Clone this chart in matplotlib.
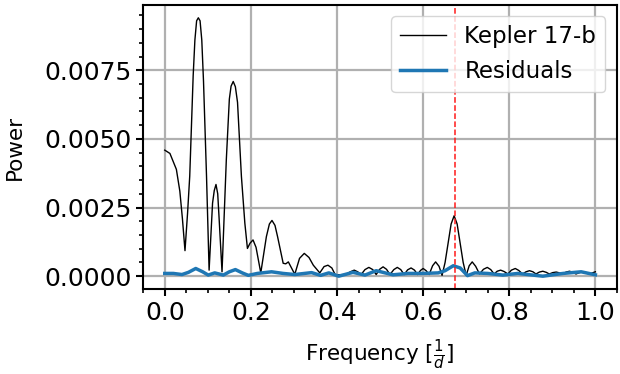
import matplotlib.pyplot as plt
import numpy as np

# periodogram of the light curve (frequency in 1/d, power)
freq = [0.000, 0.012, 0.027, 0.035, 0.041, 0.047, 0.053, 0.058, 0.066, 0.070,
        0.074, 0.078, 0.082, 0.086, 0.090, 0.097, 0.103, 0.111, 0.115, 0.119,
        0.123, 0.126, 0.133, 0.143, 0.150, 0.154, 0.159, 0.164, 0.169, 0.178,
        0.186, 0.192, 0.198, 0.205, 0.212, 0.223, 0.236, 0.243, 0.249, 0.256,
        0.262, 0.275, 0.281, 0.287, 0.302, 0.313, 0.324, 0.335, 0.345, 0.360,
        0.370, 0.379, 0.388, 0.396, 0.421, 0.431, 0.440, 0.448, 0.456, 0.465,
        0.474, 0.483, 0.491, 0.499, 0.507, 0.515, 0.523, 0.532, 0.540, 0.548,
        0.556, 0.564, 0.572, 0.580, 0.587, 0.594, 0.600, 0.607, 0.614, 0.622,
        0.629, 0.637, 0.644, 0.651, 0.658, 0.665, 0.672, 0.679, 0.686, 0.693,
        0.700, 0.707, 0.714, 0.722, 0.731, 0.740, 0.749, 0.757, 0.765, 0.772,
        0.780, 0.788, 0.797, 0.805, 0.814, 0.822, 0.831, 0.839, 0.847, 0.855,
        0.862, 0.870, 0.878, 0.886, 0.893, 0.901, 0.909, 0.917, 0.925, 0.932,
        0.940, 0.948, 0.955, 0.963, 0.971, 0.979, 0.986, 1.000]
power = [0.00459, 0.00447, 0.00389, 0.00310, 0.00210, 0.00093, 0.00230, 0.00364, 0.00730, 0.00860,
         0.00930, 0.00941, 0.00930, 0.00860, 0.00710, 0.00364, 0.00022, 0.00266, 0.00312, 0.00334,
         0.00300, 0.00217, 0.00016, 0.00425, 0.00645, 0.00692, 0.00709, 0.00690, 0.00633, 0.00364,
         0.00193, 0.00101, 0.00120, 0.00132, 0.00105, 0.00012, 0.00144, 0.00190, 0.00203, 0.00185,
         0.00144, 0.00047, 0.00045, 0.00052, 0.00007, 0.00065, 0.00083, 0.00068, 0.00040, 0.00012,
         0.00035, 0.00040, 0.00030, 0.00005, 0.00006, 0.00016, 0.00022, 0.00016, 0.00006, 0.00024,
         0.00032, 0.00024, 0.00006, 0.00025, 0.00034, 0.00025, 0.00006, 0.00024, 0.00032, 0.00024,
         0.00006, 0.00023, 0.00030, 0.00022, 0.00006, 0.00021, 0.00028, 0.00020, 0.00006, 0.00038,
         0.00052, 0.00036, 0.00003, 0.00050, 0.00120, 0.00190, 0.00220, 0.00190, 0.00120, 0.00050,
         0.00003, 0.00038, 0.00052, 0.00036, 0.00008, 0.00025, 0.00032, 0.00024, 0.00008, 0.00018,
         0.00022, 0.00017, 0.00008, 0.00022, 0.00028, 0.00021, 0.00008, 0.00016, 0.00020, 0.00016,
         0.00008, 0.00015, 0.00018, 0.00014, 0.00008, 0.00013, 0.00015, 0.00012, 0.00008, 0.00015,
         0.00018, 0.00014, 0.00008, 0.00013, 0.00016, 0.00013, 0.00008, 0.00016]

# periodogram after subtracting the transit model
res_freq = [0.000, 0.020, 0.040, 0.055, 0.072, 0.088, 0.101, 0.116, 0.136, 0.150,
            0.164, 0.180, 0.194, 0.215, 0.248, 0.275, 0.302, 0.341, 0.362, 0.381,
            0.404, 0.437, 0.465, 0.491, 0.530, 0.565, 0.600, 0.635, 0.651, 0.670,
            0.686, 0.703, 0.720, 0.750, 0.785, 0.820, 0.878, 0.925, 0.967, 1.000]
res_power = [0.00010, 0.00010, 0.00006, 0.00014, 0.00028, 0.00016, 0.00004, 0.00012, 0.00004, 0.00016,
             0.00024, 0.00012, 0.00003, 0.00010, 0.00016, 0.00010, 0.00006, 0.00013, 0.00003, 0.00012,
             0.00000, 0.00014, 0.00004, 0.00020, 0.00005, 0.00010, 0.00010, 0.00012, 0.00020, 0.00038,
             0.00030, 0.00002, 0.00012, 0.00010, 0.00004, 0.00010, 0.00000, 0.00010, 0.00016, 0.00005]

period = 1.4857  # orbital period in days

plt.rcParams['axes.linewidth'] = 1.5

fig, ax = plt.subplots(figsize=(6.2, 3.74), dpi=100)
fig.subplots_adjust(left=0.231, right=0.995, top=0.987, bottom=0.227)

ax.plot(freq, power, color='black', lw=1.0, label='Kepler 17-b')
ax.plot(res_freq, res_power, color='tab:blue', lw=2.5, label='Residuals')
ax.axvline(1 / period, color='#ff1a1a', ls='--', lw=1.1)

ax.set_xlabel(r'Frequency [$\frac{1}{d}$]', fontsize=15.5, labelpad=9)
ax.set_ylabel('Power', fontsize=15.5, labelpad=14)
ax.set_yticks([0.0, 0.0025, 0.005, 0.0075])
ax.minorticks_on()
ax.tick_params(which='major', labelsize=18, length=5, width=1.5)
ax.tick_params(which='minor', length=3, width=1.2)
ax.grid(True, which='major', color='#b0b0b0', lw=1.6)
ax.set_axisbelow(True)

ax.legend(loc='upper right', fontsize=16.5)

plt.savefig('out.png')
